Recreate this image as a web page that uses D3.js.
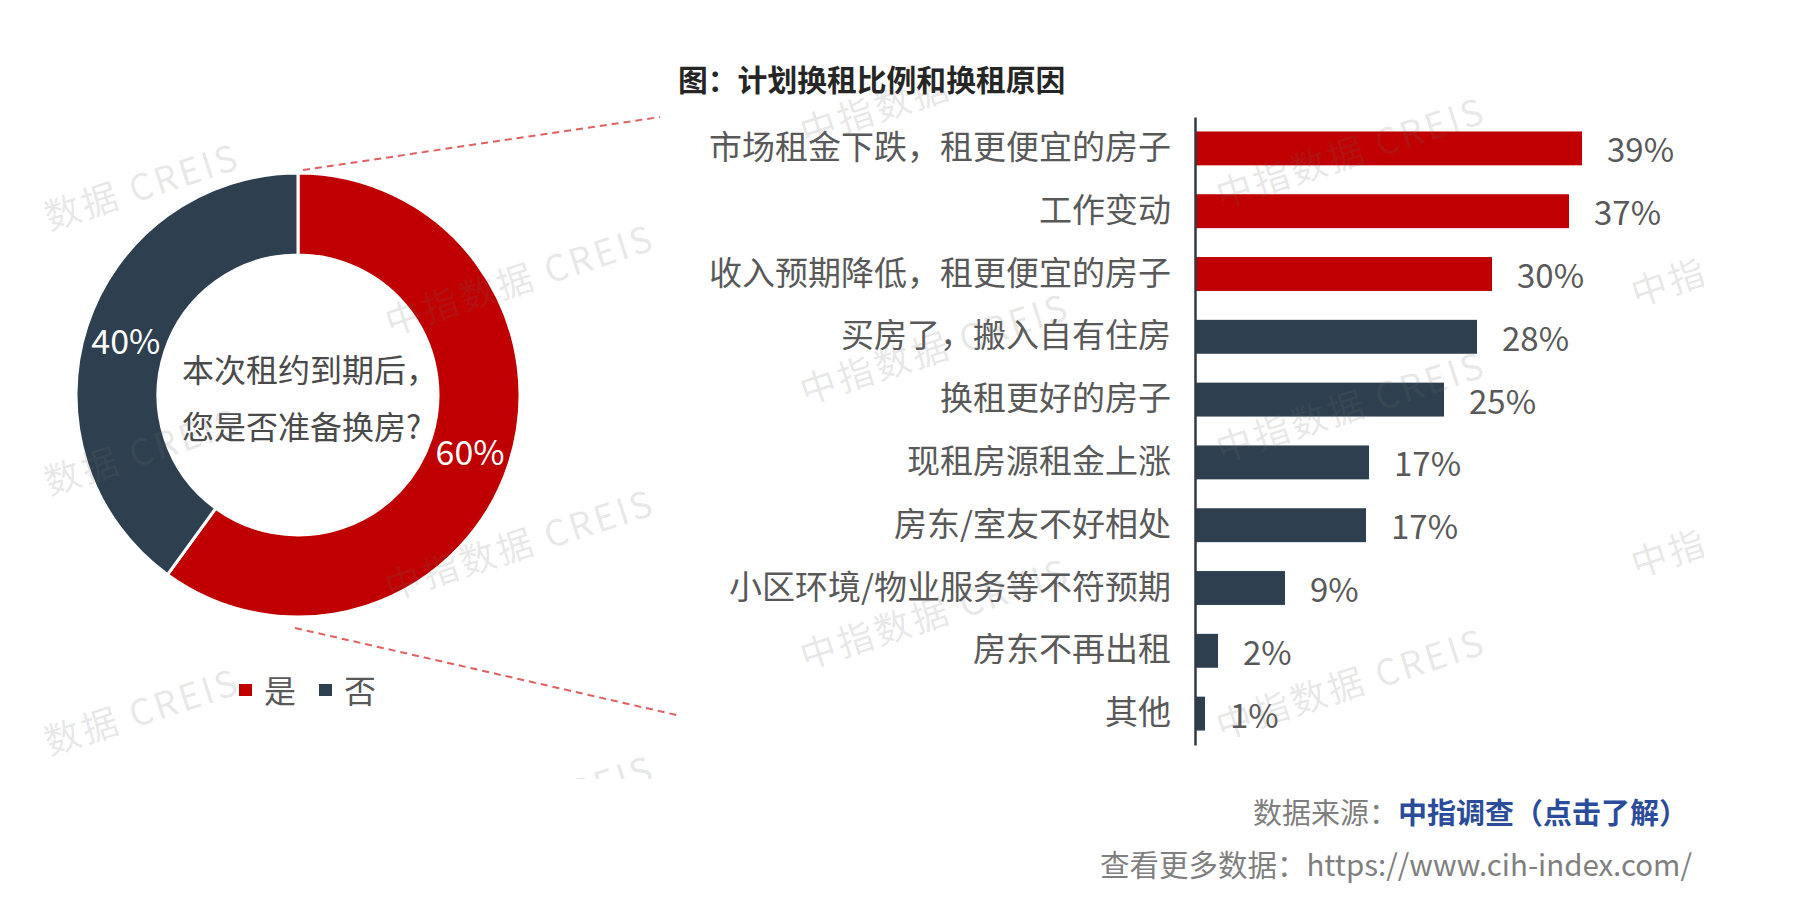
<!DOCTYPE html>
<html>
<head>
<meta charset="utf-8">
<script src="https://cdn.jsdelivr.net/npm/d3@7"></script>
<style>
  html, body { margin: 0; padding: 0; background: #ffffff; }
  svg { display: block; font-family: "Noto Sans CJK SC", "Noto Sans", sans-serif; }
</style>
</head>
<body>
<svg id="chart" width="1809" height="906"></svg>
<script>
// ---------------- data ----------------
const chartTitle = "图：计划换租比例和换租原因";
const donutQuestion = ["本次租约到期后，", "您是否准备换房?"];
const donutCategories = ["是", "否"];
const donutValues = [60, 40];
const donutLabels = ["60%", "40%"];

const reasonCategories = [
  "市场租金下跌，租更便宜的房子",
  "工作变动",
  "收入预期降低，租更便宜的房子",
  "买房了，搬入自有住房",
  "换租更好的房子",
  "现租房源租金上涨",
  "房东/室友不好相处",
  "小区环境/物业服务等不符预期",
  "房东不再出租",
  "其他"
];
const reasonValues = [38.6, 37.3, 29.6, 28.1, 24.8, 17.3, 17.0, 8.9, 2.2, 0.9];
const reasonLabels = ["39%", "37%", "30%", "28%", "25%", "17%", "17%", "9%", "2%", "1%"];
const reasonPriceRelated = [true, true, true, false, false, false, false, false, false, false];

const sourceLabel = "数据来源：";
const sourceLink = "中指调查（点击了解）";
const moreLabel = "查看更多数据：https://www.cih-index.com/";
const watermarkText = "中指数据 CREIS";

// ---------------- styles / layout ----------------
const RED = "#c00000";
const DARK = "#2e4050";
const GREY = "#595959";

const svg = d3.select("#chart");

// title
svg.append("text")
  .attr("x", 678).attr("y", 78)
  .attr("dominant-baseline", "central")
  .attr("font-size", 29.8).attr("font-weight", "bold")
  .attr("fill", "#262626")
  .text(chartTitle);

// ---------------- donut ----------------
const cx = 298, cy = 395, rOuter = 222, rInner = 140;
const gD = svg.append("g").attr("transform", `translate(${cx},${cy})`);
const pie = d3.pie().sort(null).value(d => d.v);
const arcs = pie(donutValues.map((v, i) => ({ v, c: donutCategories[i], l: donutLabels[i] })));
const arc = d3.arc().innerRadius(rInner).outerRadius(rOuter);
const donutColor = d3.scaleOrdinal().domain(donutCategories).range([RED, DARK]);

gD.selectAll("path.slice").data(arcs).join("path")
  .attr("class", "slice")
  .attr("d", arc)
  .attr("fill", d => donutColor(d.data.c))
  .attr("stroke", "#ffffff").attr("stroke-width", 3);

gD.selectAll("text.pct").data(arcs).join("text")
  .attr("class", "pct")
  .attr("transform", d => `translate(${arc.centroid(d)})`)
  .attr("text-anchor", "middle").attr("dominant-baseline", "central")
  .attr("font-size", 34).attr("fill", "#ffffff")
  .text(d => d.data.l);

gD.selectAll("text.q").data(donutQuestion).join("text")
  .attr("class", "q")
  .attr("x", -116).attr("y", (d, i) => -27 + i * 57)
  .attr("dominant-baseline", "central")
  .attr("font-size", 32).attr("fill", "#4a4a4a")
  .text(d => d);

// legend
const legend = svg.append("g").attr("transform", "translate(239,689)");
const lg = legend.selectAll("g").data(donutCategories).join("g")
  .attr("transform", (d, i) => `translate(${i * 80},0)`);
lg.append("rect").attr("x", 0).attr("y", -5).attr("width", 13).attr("height", 12)
  .attr("fill", d => donutColor(d));
lg.append("text").attr("x", 25).attr("y", 0)
  .attr("dominant-baseline", "central")
  .attr("font-size", 32).attr("fill", GREY)
  .text(d => d);

// connector dashed lines
const dash = svg.append("g").attr("stroke", "#e06060").attr("stroke-width", 2)
  .attr("stroke-dasharray", "7,5").attr("fill", "none");
dash.append("line").attr("x1", cx + 5).attr("y1", cy - rOuter - 3).attr("x2", 660).attr("y2", 117);
dash.append("line").attr("x1", cx - 3).attr("y1", cy + rOuter + 11).attr("x2", 681).attr("y2", 716);

// ---------------- bars ----------------
const x0 = 1196;
const x = d3.scaleLinear().domain([0, 40]).range([x0, x0 + 400]);
const y = d3.scaleBand().domain(reasonCategories).range([117, 745])
  .paddingInner(0.46).paddingOuter(0.23);

const bars = svg.append("g");
bars.selectAll("rect").data(reasonCategories).join("rect")
  .attr("x", x(0))
  .attr("y", d => y(d))
  .attr("width", (d, i) => x(reasonValues[i]) - x(0))
  .attr("height", y.bandwidth())
  .attr("fill", (d, i) => reasonPriceRelated[i] ? RED : DARK);

bars.selectAll("text").data(reasonCategories).join("text")
  .attr("x", (d, i) => x(reasonValues[i]) + 25)
  .attr("y", d => y(d) + y.bandwidth() / 2)
  .attr("dominant-baseline", "central")
  .attr("font-size", 33).attr("fill", GREY)
  .text((d, i) => reasonLabels[i]);

const yAxis = svg.append("g")
  .attr("transform", `translate(${x0 - 1},0)`)
  .call(d3.axisLeft(y).tickSize(0).tickPadding(24));
yAxis.select(".domain").attr("stroke", "#333a44").attr("stroke-width", 2.5);
yAxis.selectAll(".tick text")
  .attr("font-size", 33).attr("fill", GREY)
  .attr("font-family", "Noto Sans CJK SC");

// ---------------- watermarks (only the parts that show inside the picture) ----------------
const wmX = [104, 519, 934, 1350, 1765];
const wmY = [[196, 461, 721], [277, 542, 808], [87, 346, 611], [150, 404, 681], [248, 519, 773]];
svg.append("clipPath").attr("id", "wmclip")
  .append("rect").attr("x", 36).attr("y", 90).attr("width", 1668).attr("height", 689);
const wm = svg.append("g").attr("clip-path", "url(#wmclip)").attr("pointer-events", "none");

// measure full watermark length
const probe = wm.append("text").attr("font-size", 36).attr("letter-spacing", 3).text(watermarkText);
const wmLen = probe.node().getComputedTextLength();
probe.remove();

function addWm(wx, wy, txt, anchor, dx) {
  wm.append("text")
    .attr("transform", `translate(${wx},${wy}) rotate(-18)`)
    .attr("x", dx)
    .attr("text-anchor", anchor).attr("dominant-baseline", "central")
    .attr("font-size", 36).attr("letter-spacing", 3)
    .attr("fill", "#6e6e6e").attr("fill-opacity", 0.17)
    .text(txt);
}
wmX.forEach((wx, ci) => {
  wmY[ci].forEach(wy => {
    if (ci === 0) addWm(wx, wy, "数据 CREIS", "end", wmLen / 2);
    else if (ci === 4) addWm(wx, wy, "中指", "start", -wmLen / 2);
    else if (wy < 100) addWm(wx, wy, "中指数据", "start", -wmLen / 2);
    else addWm(wx, wy, watermarkText, "middle", 0);
  });
});

// ---------------- footer ----------------
const f1 = svg.append("text").attr("x", 1688).attr("y", 811)
  .attr("text-anchor", "end").attr("dominant-baseline", "central")
  .attr("font-size", 29);
f1.append("tspan").attr("fill", "#7f7f7f").text(sourceLabel);
f1.append("tspan").attr("fill", "#2b4c9b").attr("font-weight", "bold").text(sourceLink);

svg.append("text").attr("x", 1692).attr("y", 863)
  .attr("text-anchor", "end").attr("dominant-baseline", "central")
  .attr("font-size", 29.5).attr("fill", "#7f7f7f")
  .text(moreLabel);
</script>
</body>
</html>
